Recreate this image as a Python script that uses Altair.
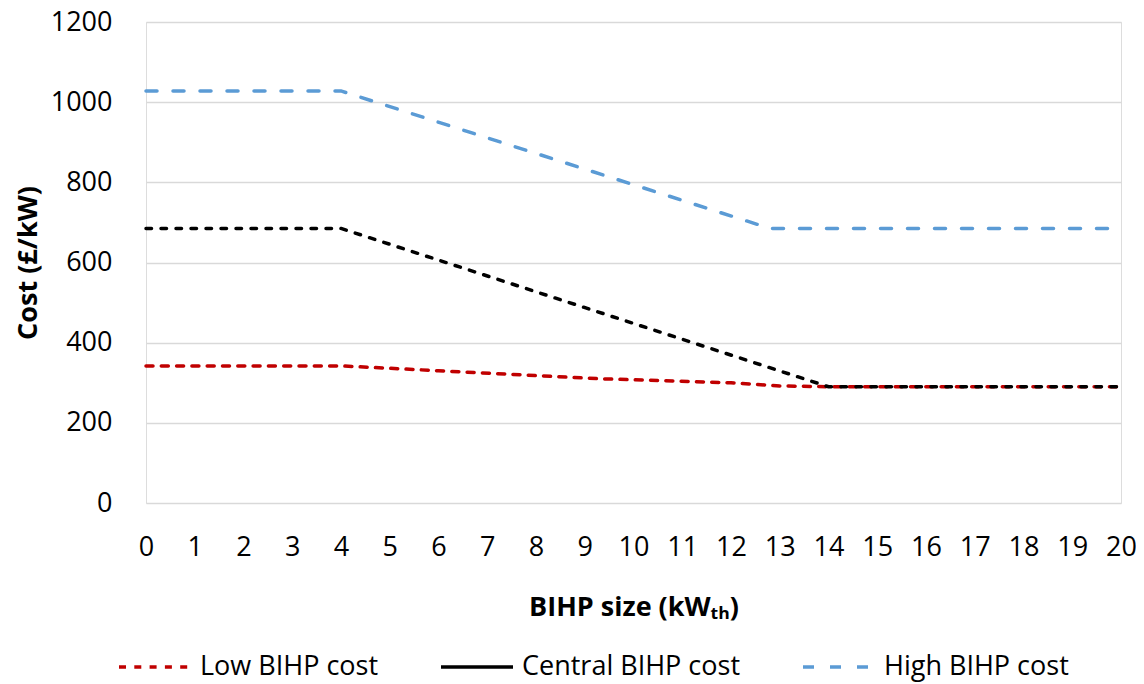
import altair as alt
import pandas as pd

series = ["Low BIHP cost", "Central BIHP cost", "High BIHP cost"]
low_x = [0, 4, 6, 9.3, 12, 13, 14, 20]
low_y = [342, 342, 330, 310, 300, 292, 290, 290]
central_x = [0, 4, 14, 20]
central_y = [685, 685, 290, 290]
high_x = [0, 4, 12.8, 20]
high_y = [1028, 1028, 685, 685]
x_ticks = list(range(0, 21))
y_ticks = [0, 200, 400, 600, 800, 1000, 1200]
colors = ["#c00000", "#000000", "#5b9bd5"]
dashes = [[7, 8.3], [5.5, 9.5], [11, 16]]
legend_dashes = [[7, 8.3], [1, 0], [11, 16]]

FONT = "Open Sans"

def frame(xs, ys, name):
    return pd.DataFrame({"x": xs, "y": ys, "series": name})

dfs = [frame(low_x, low_y, series[0]),
       frame(central_x, central_y, series[1]),
       frame(high_x, high_y, series[2])]

x_enc = alt.X("x:Q", scale=alt.Scale(domain=[0, 20], nice=False),
              axis=alt.Axis(values=x_ticks, title="BIHP size (kWₜₕ)", grid=False,
                            domain=False, ticks=False, labelPadding=31,
                            titlePadding=34, labelFontSize=27, titleFontSize=27,
                            labelFont=FONT, titleFont=FONT, labelColor="#000",
                            titleColor="#000", titleFontWeight="bold",
                            labelFlush=False, labelOverlap=False, format="d"))
y_enc = alt.Y("y:Q", scale=alt.Scale(domain=[0, 1200], nice=False),
              axis=alt.Axis(values=y_ticks, title="Cost (£/kW)", grid=True,
                            gridColor="#d9d9d9", gridWidth=1.5,
                            domain=False, ticks=False, labelPadding=34,
                            titlePadding=8, labelFontSize=27, titleFontSize=27,
                            labelFont=FONT, titleFont=FONT, labelColor="#000",
                            titleColor="#000", titleFontWeight="bold", format="d"))

layers = []
for i, df in enumerate(dfs):
    layers.append(
        alt.Chart(df).mark_line(color=colors[i], strokeWidth=3.5,
                                strokeDash=dashes[i], strokeCap="round")
        .encode(x=x_enc, y=y_enc)
    )

legend_df = pd.DataFrame({
    "x": [low_x[0], central_x[0], high_x[0]],
    "y": [low_y[0], central_y[0], high_y[0]],
    "series": series,
})
leg = alt.Legend(title=None, orient="none", direction="horizontal",
                 legendX=-29, legendY=607, symbolType="stroke",
                 symbolSize=5184, symbolStrokeWidth=3.5, labelFont=FONT,
                 labelFontSize=27, labelColor="#000", labelOffset=7,
                 labelLimit=500, columnPadding=55, columns=3)
legend_layer = alt.Chart(legend_df).mark_line(strokeWidth=3).encode(
    x=alt.X("x:Q"), y=alt.Y("y:Q"),
    color=alt.Color("series:N", scale=alt.Scale(domain=series, range=colors),
                    legend=leg, sort=series),
    strokeDash=alt.StrokeDash("series:N",
                              scale=alt.Scale(domain=series, range=legend_dashes),
                              legend=leg, sort=series),
)

chart = alt.layer(*layers, legend_layer).properties(
    width=975, height=481,
    autosize=alt.AutoSizeParams(type="none"),
    padding={"left": 138, "top": 14, "right": 15, "bottom": 181},
).configure_view(stroke=None).configure(background="white")

chart.save("out.html", embed_options={"renderer": "svg", "actions": False})
